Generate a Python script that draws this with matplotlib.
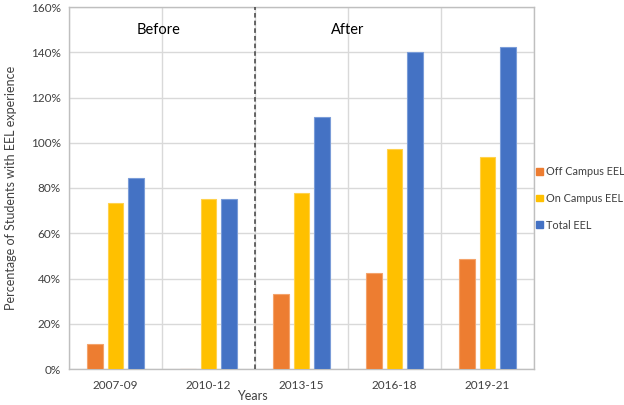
import matplotlib
matplotlib.use("Agg")
import matplotlib.pyplot as plt
import numpy as np
from matplotlib.patches import Patch

categories = ["2007-09", "2010-12", "2013-15", "2016-18", "2019-21"]
off_campus = [11, 0, 33.3, 42.6, 48.8]
on_campus = [73.4, 75, 77.6, 97.2, 93.8]
total = [84.3, 75, 111.2, 140, 142.5]
series_names = ["Off Campus EEL", "On Campus EEL", "Total EEL"]
yticks = [0, 20, 40, 60, 80, 100, 120, 140, 160]

plt.rcParams['font.family'] = ['Lato', 'DejaVu Sans']

fig = plt.figure(figsize=(6.24, 4.05), dpi=100)
ax = fig.add_axes([69/624, 1-369/405, (534-69)/624, (369-7)/405])

colors = ["#ED7D31", "#FFC000", "#4472C4"]
edges = ["#F4A36B", "#FFD24D", "#7A9CD8"]
x = np.arange(len(categories))
w = 0.17
sp = 0.22
for i, (vals, c, e) in enumerate(zip([off_campus, on_campus, total], colors, edges)):
    ax.bar(x + (i-1)*sp, vals, width=w, color=c, edgecolor=e, linewidth=0.8, zorder=3)

ax.set_xlim(-0.5, len(categories)-0.5)
ax.set_ylim(0, 160)
ax.set_yticks(yticks)
ax.set_yticklabels([f"{v}%" for v in yticks], fontsize=8.5, color="#404040")
ax.set_xticks(x)
ax.set_xticklabels(categories, fontsize=8.5, color="#404040")
ax.set_xticks(np.arange(len(categories)+1)-0.5, minor=True)
ax.tick_params(which='both', length=0)
ax.tick_params(axis='x', pad=8)
ax.tick_params(axis='y', pad=6)
ax.grid(axis='y', color="#D9D9D9", linewidth=1, zorder=0)
ax.grid(axis='x', which='minor', color="#D9D9D9", linewidth=1, zorder=0)
ax.grid(axis='x', which='major', visible=False)
for s in ax.spines.values():
    s.set_color("#BFBFBF")
    s.set_linewidth(1)

ax.axvline(1.5, color="#404040", linestyle=(0, (3, 2)), linewidth=1.1, zorder=4)
ax.text(0.46, 150, "Before", fontsize=10.5, ha='center', va='center', color="black")
ax.text(2.5, 150, "After", fontsize=10.5, ha='center', va='center', color="black")

ax.set_ylabel("Percentage of Students with EEL experience", fontsize=9, color="#404040", labelpad=10)
fig.text(252/624, 1-396/405, "Years", fontsize=9, ha='center', va='center', color="#404040")

handles = [Patch(facecolor=c, edgecolor=c) for c in colors]
leg = fig.legend(handles, series_names, loc='upper left', bbox_to_anchor=(534/624, 1-164/405),
                 frameon=False, fontsize=7.8, handlelength=0.6, handleheight=0.6,
                 handletextpad=0.3, labelspacing=1.45, borderaxespad=0, borderpad=0.2)
for t in leg.get_texts():
    t.set_color("#404040")

fig.savefig("out.png", dpi=100)
